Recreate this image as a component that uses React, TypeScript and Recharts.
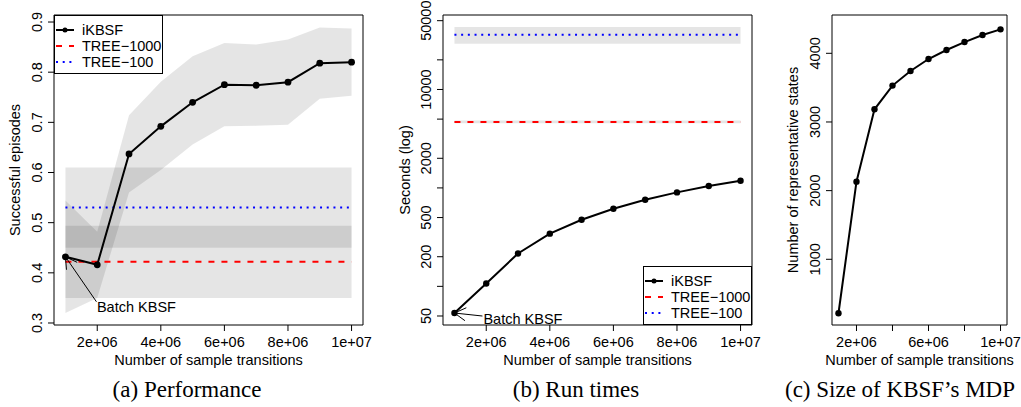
import React from 'react';
import {
  ComposedChart,
  Line,
  Area,
  XAxis,
  YAxis,
  ReferenceArea,
  ReferenceLine,
  ReferenceDot,
  Legend,
} from 'recharts';

// x values shared by all three panels
const samples = [1e6, 2e6, 3e6, 4e6, 5e6, 6e6, 7e6, 8e6, 9e6, 1e7];

// (a) performance
const ikbsfSuccess = [0.432, 0.416, 0.637, 0.692, 0.74, 0.775, 0.774, 0.78, 0.818, 0.82];
const ikbsfSuccessLow = [0.32, 0.35, 0.56, 0.605, 0.656, 0.692, 0.693, 0.695, 0.747, 0.753];
const ikbsfSuccessHigh = [0.544, 0.482, 0.714, 0.781, 0.832, 0.858, 0.855, 0.865, 0.889, 0.887];
const tree1000Success = { mean: 0.422, low: 0.35, high: 0.494 };
const tree100Success = { mean: 0.53, low: 0.45, high: 0.61 };

// (b) run times (seconds)
const ikbsfSeconds = [53.6, 107, 216, 343, 475, 614, 757, 901, 1045, 1183];
const tree1000Seconds = { mean: 4685, low: 4550, high: 4850 };
const tree100Seconds = { mean: 36070, low: 29200, high: 43200 };

// (c) size of the MDP
const representativeStates = [214, 2131, 3185, 3530, 3742, 3917, 4048, 4164, 4266, 4349];

// ticks
const xTicks = [2e6, 4e6, 6e6, 8e6, 1e7];
const xTickLabels = ['2e+06', '4e+06', '6e+06', '8e+06', '1e+07'];
const xTickLabelsC = ['2e+06', '', '6e+06', '', '1e+07'];
const successTicks = [0.3, 0.4, 0.5, 0.6, 0.7, 0.8, 0.9];
const successTickLabels = ['0.3', '0.4', '0.5', '0.6', '0.7', '0.8', '0.9'];
const secondsTicks = [50, 100, 200, 500, 1000, 2000, 5000, 10000, 20000, 50000];
const secondsTickLabels = ['50', '', '200', '500', '', '2000', '', '10000', '', '50000'];
const statesTicks = [1000, 2000, 3000, 4000];
const statesTickLabels = ['1000', '2000', '3000', '4000'];

const xDomain = [0.64e6, 10.36e6];
const successDomain = [0.296, 0.914];
const secondsDomain = [40.5, 57100];
const statesDomain = [43, 4558];

const rows = samples.map((x, i) => ({
  x,
  success: ikbsfSuccess[i],
  band: [ikbsfSuccessLow[i], ikbsfSuccessHigh[i]],
  seconds: ikbsfSeconds[i],
  states: representativeStates[i],
}));

const font = '"Liberation Sans", Arial, Helvetica, sans-serif';
const FS = 14.5;
const RED_DASH = '6 7';
const BLUE_DOT = '2 4.7';

function makeXTick(labels: string[]) {
  return (props: any) => {
    const i = xTicks.indexOf(props.payload.value);
    return (
      <text x={props.x} y={props.y + 15.5} textAnchor="middle" fontFamily={font} fontSize={FS} fill="#000">
        {labels[i]}
      </text>
    );
  };
}

function makeYTick(ticks: number[], labels: string[]) {
  return (props: any) => {
    const i = ticks.indexOf(props.payload.value);
    const bx = props.x - 6;
    return (
      <text
        x={bx}
        y={props.y}
        transform={`rotate(-90 ${bx} ${props.y})`}
        textAnchor="middle"
        fontFamily={font}
        fontSize={FS}
        fill="#000"
      >
        {labels[i]}
      </text>
    );
  };
}

function BatchNote({ cx, cy, tx, ty, lx, ly }: any) {
  const ang = Math.atan2(ty, tx);
  const len = 13;
  const a1 = ang + Math.PI / 6;
  const a2 = ang - Math.PI / 6;
  return (
    <g stroke="#000" strokeWidth={1} fill="none">
      <line x1={cx} y1={cy} x2={cx + tx} y2={cy + ty} />
      <line x1={cx} y1={cy} x2={cx + len * Math.cos(a1)} y2={cy + len * Math.sin(a1)} />
      <line x1={cx} y1={cy} x2={cx + len * Math.cos(a2)} y2={cy + len * Math.sin(a2)} />
      <text x={cx + lx} y={cy + ly} stroke="none" fill="#000" fontFamily={font} fontSize={FS}>
        Batch KBSF
      </text>
    </g>
  );
}

function LegendBox() {
  const items = [
    { name: 'iKBSF', kind: 'line' },
    { name: 'TREE\u22121000', kind: 'dash' },
    { name: 'TREE\u2212100', kind: 'dot' },
  ];
  return (
    <div
      style={{
        border: '1px solid #000',
        background: '#fff',
        width: 109,
        height: 59,
        boxSizing: 'border-box',
        paddingTop: 6,
        fontFamily: font,
        fontSize: FS,
        color: '#000',
      }}
    >
      {items.map((it) => (
        <div key={it.name} style={{ display: 'flex', alignItems: 'center', height: 16 }}>
          <svg width={27} height={16} style={{ flex: 'none' }}>
            {it.kind === 'line' && (
              <g>
                <line x1={1} y1={8} x2={19} y2={8} stroke="#000" strokeWidth={2} />
                <circle cx={10} cy={8} r={2.5} fill="#000" />
              </g>
            )}
            {it.kind === 'dash' && (
              <line x1={1} y1={8} x2={19} y2={8} stroke="red" strokeWidth={2} strokeDasharray={RED_DASH} />
            )}
            {it.kind === 'dot' && (
              <line x1={1} y1={8} x2={19} y2={8} stroke="blue" strokeWidth={2} strokeDasharray={BLUE_DOT} />
            )}
          </svg>
          <span style={{ whiteSpace: 'nowrap', lineHeight: '16px' }}>{it.name}</span>
        </div>
      ))}
    </div>
  );
}

const labelStyle = { fontFamily: font, fontSize: FS, fill: '#000', textAnchor: 'middle' as const };

function xAxisEl(labels: string[]) {
  return (
    <XAxis
      dataKey="x"
      type="number"
      domain={xDomain}
      allowDataOverflow
      ticks={xTicks}
      interval={0}
      tick={makeXTick(labels)}
      tickSize={6}
      tickMargin={0}
      tickLine={{ stroke: '#000' }}
      axisLine={false}
      height={40}
      label={{ value: 'Number of sample transitions', position: 'insideBottom', offset: 0.5, style: labelStyle }}
    />
  );
}

function Frame({ y }: { y: number[] }) {
  return (
    <ReferenceArea x1={xDomain[0]} x2={xDomain[1]} y1={y[0]} y2={y[1]} fill="none" stroke="#000" strokeWidth={1} />
  );
}

export default function App() {
  const first = samples[0];
  const last = samples[samples.length - 1];
  const segA1 = [{ x: first, y: tree1000Success.mean }, { x: last, y: tree1000Success.mean }];
  const segA2 = [{ x: first, y: tree100Success.mean }, { x: last, y: tree100Success.mean }];
  const segB1 = [{ x: first, y: tree1000Seconds.mean }, { x: last, y: tree1000Seconds.mean }];
  const segB2 = [{ x: first, y: tree100Seconds.mean }, { x: last, y: tree100Seconds.mean }];
  return (
    <div style={{ position: 'absolute', left: 0, top: 0, width: 1021, height: 407, background: '#fff' }}>
      {/* (a) Performance */}
      <div style={{ position: 'absolute', left: 0, top: 0 }}>
        <ComposedChart width={385} height={407} data={rows} margin={{ top: 15, right: 22, bottom: 42, left: 0 }}>
          {xAxisEl(xTickLabels)}
          <YAxis
            type="number"
            domain={successDomain}
            allowDataOverflow
            ticks={successTicks}
            interval={0}
            tick={makeYTick(successTicks, successTickLabels)}
            tickSize={6}
            tickMargin={0}
            tickLine={{ stroke: '#000' }}
            axisLine={false}
            width={54}
            label={{ value: 'Successful episodes', angle: -90, position: 'insideLeft', offset: 15, style: labelStyle }}
          />
          <ReferenceArea x1={first} x2={last} y1={tree1000Success.low} y2={tree1000Success.high} fill="#000" fillOpacity={0.1} stroke="none" />
          <ReferenceArea x1={first} x2={last} y1={tree100Success.low} y2={tree100Success.high} fill="#000" fillOpacity={0.1} stroke="none" />
          <Area dataKey="band" stroke="none" fill="#000" fillOpacity={0.1} isAnimationActive={false} />
          <ReferenceLine segment={segA1} stroke="red" strokeWidth={2} strokeDasharray={RED_DASH} />
          <ReferenceLine segment={segA2} stroke="blue" strokeWidth={2} strokeDasharray={BLUE_DOT} />
          <Line dataKey="success" stroke="#000" strokeWidth={2} dot={{ r: 3.4, fill: '#000', stroke: 'none' }} isAnimationActive={false} />
          <ReferenceDot
            x={first}
            y={ikbsfSuccess[0]}
            r={0}
            shape={(p: any) => <BatchNote cx={p.cx} cy={p.cy} tx={31} ty={45} lx={31.5} ly={55.5} />}
          />
          <Frame y={successDomain} />
          <Legend
            layout="vertical"
            align="center"
            verticalAlign="middle"
            content={() => <LegendBox />}
            wrapperStyle={{ left: 54, top: 15, width: 109, height: 59 }}
          />
        </ComposedChart>
      </div>

      {/* (b) Run times */}
      <div style={{ position: 'absolute', left: 370, top: 0 }}>
        <ComposedChart width={405} height={407} data={rows} margin={{ top: 15, right: 23, bottom: 42, left: 0 }}>
          {xAxisEl(xTickLabels)}
          <YAxis
            type="number"
            scale="log"
            domain={secondsDomain}
            allowDataOverflow
            ticks={secondsTicks}
            interval={0}
            tick={makeYTick(secondsTicks, secondsTickLabels)}
            tickSize={6}
            tickMargin={0}
            tickLine={{ stroke: '#000' }}
            axisLine={false}
            width={73}
            label={{ value: 'Seconds (log)', angle: -90, position: 'insideLeft', offset: 35, style: labelStyle }}
          />
          <ReferenceArea x1={first} x2={last} y1={tree1000Seconds.low} y2={tree1000Seconds.high} fill="#000" fillOpacity={0.1} stroke="none" />
          <ReferenceArea x1={first} x2={last} y1={tree100Seconds.low} y2={tree100Seconds.high} fill="#000" fillOpacity={0.1} stroke="none" />
          <ReferenceLine segment={segB1} stroke="red" strokeWidth={2} strokeDasharray={RED_DASH} />
          <ReferenceLine segment={segB2} stroke="blue" strokeWidth={2} strokeDasharray={BLUE_DOT} />
          <Line dataKey="seconds" stroke="#000" strokeWidth={2} dot={{ r: 3.2, fill: '#000', stroke: 'none' }} isAnimationActive={false} />
          <ReferenceDot
            x={first}
            y={ikbsfSeconds[0]}
            r={0}
            shape={(p: any) => <BatchNote cx={p.cx} cy={p.cy} tx={28} ty={3} lx={29} ly={10.5} />}
          />
          <Frame y={secondsDomain} />
          <Legend
            layout="vertical"
            align="center"
            verticalAlign="middle"
            content={() => <LegendBox />}
            wrapperStyle={{ left: 273, top: 266, width: 109, height: 59 }}
          />
        </ComposedChart>
      </div>

      {/* (c) Size of KBSF's MDP */}
      <div style={{ position: 'absolute', left: 760, top: 0 }}>
        <ComposedChart width={261} height={407} data={rows} margin={{ top: 15, right: 14, bottom: 42, left: 0 }}>
          {xAxisEl(xTickLabelsC)}
          <YAxis
            type="number"
            domain={statesDomain}
            allowDataOverflow
            ticks={statesTicks}
            interval={0}
            tick={makeYTick(statesTicks, statesTickLabels)}
            tickSize={6}
            tickMargin={0}
            tickLine={{ stroke: '#000' }}
            axisLine={false}
            width={72}
            label={{ value: 'Number of representative states', angle: -90, position: 'insideLeft', offset: 33, style: labelStyle }}
          />
          <Line dataKey="states" stroke="#000" strokeWidth={2} dot={{ r: 3.2, fill: '#000', stroke: 'none' }} isAnimationActive={false} />
          <Frame y={statesDomain} />
        </ComposedChart>
      </div>

      {/* sub-figure captions */}
      <svg width={1021} height={407} style={{ position: 'absolute', left: 0, top: 0, pointerEvents: 'none' }}>
        <g fontFamily='"Liberation Serif", "Times New Roman", serif' fontSize={23} fill="#000" textAnchor="middle">
          <text x={187} y={397}>(a) Performance</text>
          <text x={576} y={397}>(b) Run times</text>
          <text x={900} y={397}>(c) Size of KBSF’s MDP</text>
        </g>
      </svg>
    </div>
  );
}
